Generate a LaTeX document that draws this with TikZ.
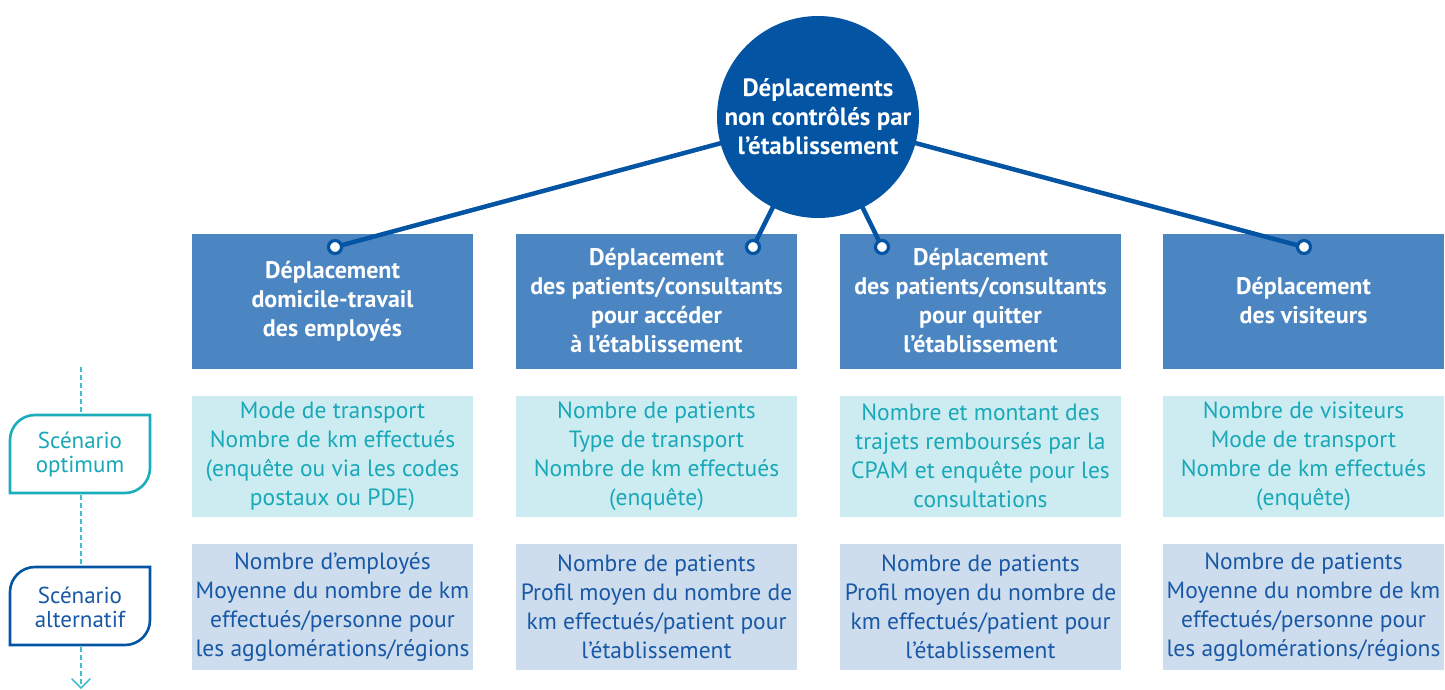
\documentclass[tikz,border=0pt]{standalone}
\usepackage{fontspec}
\setmainfont{PT Sans}
\usetikzlibrary{arrows.meta}
\definecolor{dblue}{RGB}{4,84,164}
\definecolor{hblue}{RGB}{76,134,194}
\definecolor{tealfill}{RGB}{205,236,241}
\definecolor{tealtext}{RGB}{24,168,184}
\definecolor{tealline}{RGB}{26,174,187}
\definecolor{dashcol}{RGB}{60,190,204}
\definecolor{lbfill}{RGB}{205,221,237}
\definecolor{lbtext}{RGB}{24,88,166}
\tikzset{
  txt/.style={font=\fontsize{23.5}{29}\selectfont, align=center},
  hbox/.style={txt, fill=hblue, text=white, font=\bfseries\fontsize{24}{29}\selectfont, minimum width=281pt, minimum height=135pt, inner sep=0pt},
  obox/.style={txt, fill=tealfill, text=tealtext, minimum width=281pt, minimum height=121pt, inner sep=0pt},
  abox/.style={txt, fill=lbfill, text=lbtext, minimum width=281pt, minimum height=126pt, inner sep=0pt},
  conn/.style={draw=dblue, line width=4.5pt},
  dotc/.style={circle, draw=dblue, fill=white, line width=3.2pt, minimum size=13pt, inner sep=0pt},
  scen/.style={txt, font=\fontsize{23}{24}\selectfont},
}
\begin{document}
\begin{tikzpicture}[x=1pt,y=-1pt]
\useasboundingbox (0,0) rectangle (1445,689);
% dashed timeline
\coordinate (dtop) at (81,367);
\coordinate (dend) at (81,688);
\draw[dashcol, line width=1.6pt, dash pattern=on 5pt off 3pt] (dtop) -- (dend);
\draw[dashcol, line width=1.6pt, line cap=round] (72,679) -- (dend) -- (90,679);
% scenario labels
\fill[white] (10,493) -- (10,440) arc[start angle=180,end angle=270,radius=25] -- (150,415) -- (150,468) arc[start angle=0,end angle=90,radius=25] -- cycle;
\draw[tealline, line width=2.6pt] (10,493) -- (10,440) arc[start angle=180,end angle=270,radius=25] -- (150,415) -- (150,468) arc[start angle=0,end angle=90,radius=25] -- cycle;
\node[scen, text=tealtext] (sopt) at (80,455) {Scénario\\optimum};
\fill[white] (10,645) -- (10,592) arc[start angle=180,end angle=270,radius=25] -- (150,567) -- (150,620) arc[start angle=0,end angle=90,radius=25] -- cycle;
\draw[dblue, line width=2.6pt] (10,645) -- (10,592) arc[start angle=180,end angle=270,radius=25] -- (150,567) -- (150,620) arc[start angle=0,end angle=90,radius=25] -- cycle;
\node[scen, text=lbtext] (salt) at (80,607) {Scénario\\alternatif};
% header boxes
\node[hbox] (h1) at (332.5,301) {Déplacement\\domicile-travail\\des employés};
\node[hbox] (h2) at (656.5,301) {Déplacement\\des patients/consultants\\pour accéder\\à l’établissement};
\node[hbox] (h3) at (980.5,301) {Déplacement\\des patients/consultants\\pour quitter\\l’établissement};
\node[hbox] (h4) at (1303.5,301) {Déplacement\\des visiteurs};
% optimum boxes
\node[obox] (o1) at (332.5,456) {Mode de transport\\Nombre de km effectués\\(enquête ou via les codes\\postaux ou PDE)};
\node[obox] (o2) at (656.5,456) {Nombre de patients\\Type de transport\\Nombre de km effectués\\(enquête)};
\node[obox] (o3) at (980.5,456) {Nombre et montant des\\trajets remboursés par la\\CPAM et enquête pour les\\consultations};
\node[obox] (o4) at (1303.5,456) {Nombre de visiteurs\\Mode de transport\\Nombre de km effectués\\(enquête)};
% alternative boxes
\node[abox] (a1) at (332.5,607) {Nombre d’employés\\Moyenne du nombre de km\\effectués/personne pour\\les agglomérations/régions};
\node[abox] (a2) at (656.5,607) {Nombre de patients\\Profil moyen du nombre de\\km effectués/patient pour\\l’établissement};
\node[abox] (a3) at (980.5,607) {Nombre de patients\\Profil moyen du nombre de\\km effectués/patient pour\\l’établissement};
\node[abox] (a4) at (1303.5,607) {Nombre de patients\\Moyenne du nombre de km\\effectués/personne pour\\les agglomérations/régions};
% connectors
\coordinate (cc) at (818,117);
\coordinate (p1) at (335,247);
\coordinate (p2) at (753,247);
\coordinate (p3) at (882,247);
\coordinate (p4) at (1304,247);
\draw[conn] (p1) -- (cc);
\draw[conn] (p2) -- (cc);
\draw[conn] (p3) -- (cc);
\draw[conn] (p4) -- (cc);
\node[circle, fill=dblue, minimum size=202pt, inner sep=0pt, text=white, font=\bfseries\fontsize{25}{29}\selectfont, align=center] (c) at (cc) {Déplacements\\non contrôlés par\\l’établissement};
\node[dotc] (d1) at (p1) {};
\node[dotc] (d2) at (p2) {};
\node[dotc] (d3) at (p3) {};
\node[dotc] (d4) at (p4) {};
\end{tikzpicture}
\end{document}
